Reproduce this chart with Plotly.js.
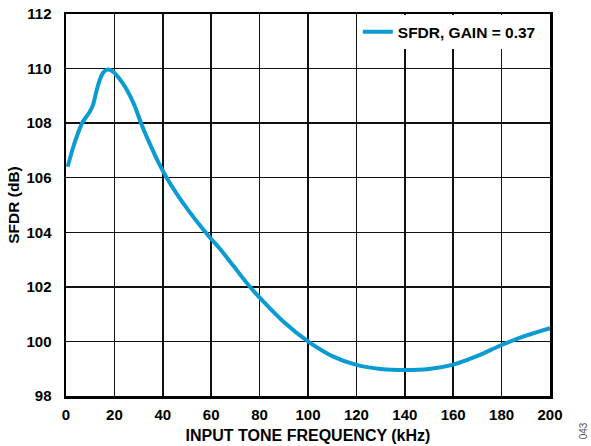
<!DOCTYPE html>
<html>
<head>
<meta charset="utf-8">
<script src="https://cdn.plot.ly/plotly-3.0.1.min.js"></script>
<style>
html,body{margin:0;padding:0;background:#fff;}
#chart{width:591px;height:446px;}
</style>
</head>
<body>
<div id="chart"></div>
<script>
// Data
var freqKHz = [0.7, 2.8, 4.9, 6.9, 9.7, 11.1, 12.5, 13.9, 15.5, 17.3, 19.3, 22.1, 24.9, 28.3, 31.1, 34.6, 38.1, 41.6, 45.7, 50.5, 55.3, 59.3, 64.1, 68.9, 75.8, 82, 90, 100, 110, 120, 130, 140, 150, 160, 170, 180, 190, 200];
var sfdrDb = [106.4, 107.07, 107.62, 108.04, 108.4, 108.65, 109.14, 109.57, 109.87, 109.97, 109.9, 109.63, 109.26, 108.65, 107.98, 107.25, 106.58, 106.0, 105.42, 104.81, 104.26, 103.83, 103.34, 102.8, 102.02, 101.42, 100.71, 100.0, 99.46, 99.14, 98.99, 98.95, 98.99, 99.15, 99.47, 99.87, 100.21, 100.49];
var seriesName = 'SFDR, GAIN = 0.37';
var xTicks = [0, 20, 40, 60, 80, 100, 120, 140, 160, 180, 200];
var yTicks = [98, 100, 102, 104, 106, 108, 110, 112];
var xTitle = 'INPUT TONE FREQUENCY (kHz)';
var yTitle = 'SFDR (dB)';
var figNote = '043';

var FONT = 'Liberation Sans, Arial, Helvetica, sans-serif';

var trace = {
  x: freqKHz,
  y: sfdrDb,
  type: 'scatter',
  mode: 'lines',
  name: seriesName,
  line: {color: '#0a9bd2', width: 4, shape: 'spline', smoothing: 0.8}
};

var axisCommon = {
  showline: true,
  mirror: true,
  linecolor: '#000',
  linewidth: 2.5,
  showgrid: true,
  gridcolor: '#111',
  gridwidth: 1.5,
  zeroline: false,
  ticks: 'outside',
  tickcolor: 'rgba(0,0,0,0)',
  tickfont: {family: FONT, size: 15, color: '#000', weight: 'bold'}
};

var layout = {
  width: 591,
  height: 446,
  margin: {l: 66, r: 41, t: 14, b: 50},
  paper_bgcolor: '#fff',
  plot_bgcolor: '#fff',
  showlegend: true,
  legend: {
    x: 0.981, xanchor: 'right',
    y: 0.997, yanchor: 'top',
    bgcolor: '#fff',
    borderwidth: 0,
    font: {family: FONT, size: 15.5, color: '#000', weight: 'bold'}
  },
  xaxis: Object.assign({}, axisCommon, {
    range: [0, 200],
    tickvals: xTicks,
    ticktext: xTicks.map(String),
    ticklen: 3,
    title: {text: xTitle, standoff: 9, font: {family: FONT, size: 16, color: '#000', weight: 'bold'}}
  }),
  yaxis: Object.assign({}, axisCommon, {
    range: [98, 112],
    tickvals: yTicks,
    ticktext: yTicks.map(String),
    ticklen: 9,
    title: {text: yTitle, standoff: 3, font: {family: FONT, size: 15.5, color: '#000', weight: 'bold'}}
  }),
  annotations: [{
    text: figNote,
    xref: 'paper', yref: 'paper',
    x: 1.068, y: -0.09,
    xanchor: 'center', yanchor: 'middle',
    textangle: -90,
    showarrow: false,
    font: {family: FONT, size: 10, color: '#555'}
  }]
};

Plotly.newPlot('chart', [trace], layout, {displayModeBar: false, staticPlot: true});
</script>
</body>
</html>
